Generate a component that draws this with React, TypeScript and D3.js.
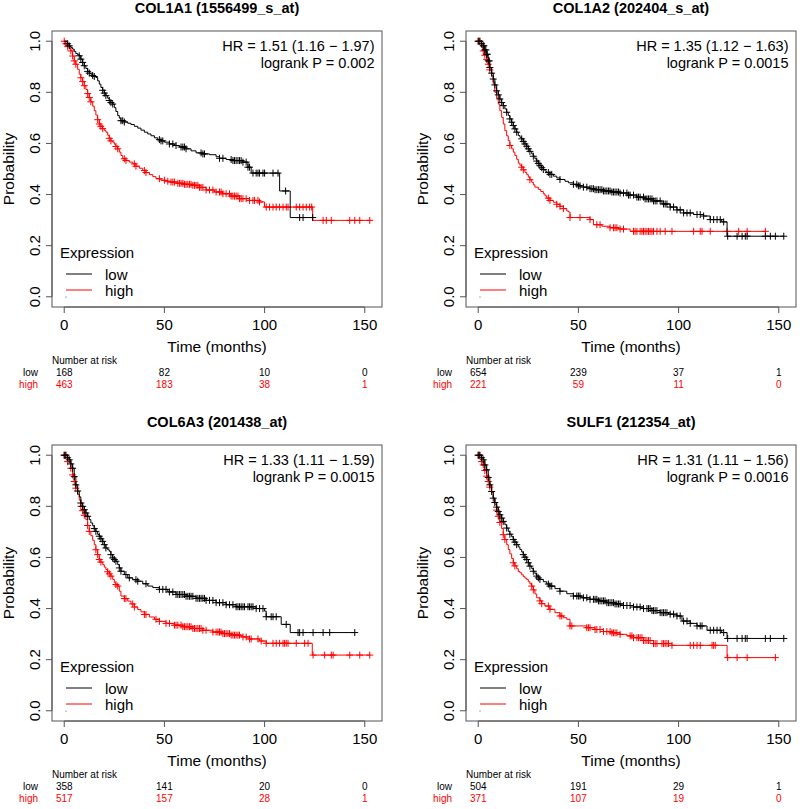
import React from "react";
import * as d3 from "d3";

// ---------- DATA ----------
const titles = ["COL1A1 (1556499_s_at)", "COL1A2 (202404_s_at)", "COL6A3 (201438_at)", "SULF1 (212354_at)"];
const hrTexts = ["HR = 1.51 (1.16 \u2212 1.97)", "HR = 1.35 (1.12 \u2212 1.63)", "HR = 1.33 (1.11 \u2212 1.59)", "HR = 1.31 (1.11 \u2212 1.56)"];
const pTexts = ["logrank P = 0.002", "logrank P = 0.0015", "logrank P = 0.0015", "logrank P = 0.0016"];
const riskTimes = [0, 50, 100, 150];
const riskLow = [[168, 82, 10, 0], [654, 239, 37, 1], [358, 141, 20, 0], [504, 191, 29, 1]];
const riskHigh = [[463, 183, 38, 1], [221, 59, 11, 0], [517, 157, 28, 1], [371, 107, 19, 0]];
const xTicks = [0, 50, 100, 150];
const yTicks = [0, 0.2, 0.4, 0.6, 0.8, 1.0];

// KM step points: time, survival
const p1LowT = [0, 1.7, 2.5, 3.3, 4.2, 5, 5.8, 6.7, 7.5, 8.3, 9.2, 10, 10.8, 11.7, 12.5, 13.3, 14.2, 15, 15.8, 16.7, 17.5, 18.3, 19.2, 20, 20.8, 21.7, 22.5, 23.3, 24.2, 25, 25.8, 26.7, 27.5, 28.3, 30, 31.7, 33.3, 35, 36.7, 38.3, 40, 41.7, 43.3, 45, 46.7, 48.3, 50, 52.5, 55, 57.5, 60.8, 63.3, 65.8, 69.2, 72.5, 75.8, 77.5, 80.8, 84, 89, 91.7, 93.3, 107.5, 112.8];
const p1LowS = [1, 0.99, 0.982, 0.975, 0.969, 0.96, 0.952, 0.947, 0.943, 0.93, 0.917, 0.904, 0.893, 0.882, 0.875, 0.871, 0.866, 0.862, 0.858, 0.845, 0.832, 0.819, 0.808, 0.797, 0.787, 0.777, 0.768, 0.76, 0.754, 0.74, 0.725, 0.709, 0.699, 0.689, 0.684, 0.679, 0.674, 0.667, 0.66, 0.652, 0.644, 0.637, 0.63, 0.622, 0.615, 0.61, 0.605, 0.598, 0.592, 0.586, 0.579, 0.571, 0.563, 0.559, 0.556, 0.548, 0.542, 0.537, 0.533, 0.527, 0.507, 0.484, 0.414, 0.31];
const p1HighT = [0, 0.8, 1.7, 2.5, 3.3, 4.2, 5, 5.8, 6.7, 7.5, 8.3, 9.2, 10, 10.8, 11.7, 12.5, 13.3, 14.2, 15, 15.8, 16.7, 17.5, 18.3, 19.2, 20, 20.8, 21.7, 22.5, 23.3, 24.2, 25, 25.8, 26.7, 27.5, 28.3, 29.2, 30.8, 32.5, 34.2, 35.8, 37.5, 39.2, 40.8, 42.5, 44.2, 45.8, 48.3, 50.8, 52.5, 56.7, 60, 64.2, 67.5, 70.8, 75, 79, 83.3, 87.5, 92.5, 97.5, 100, 124];
const p1HighS = [1, 0.99, 0.98, 0.972, 0.962, 0.942, 0.923, 0.91, 0.89, 0.871, 0.857, 0.842, 0.826, 0.811, 0.795, 0.78, 0.763, 0.746, 0.728, 0.711, 0.693, 0.676, 0.667, 0.658, 0.651, 0.644, 0.632, 0.62, 0.61, 0.605, 0.597, 0.588, 0.579, 0.566, 0.553, 0.54, 0.533, 0.527, 0.52, 0.511, 0.503, 0.494, 0.486, 0.478, 0.47, 0.462, 0.456, 0.452, 0.449, 0.444, 0.44, 0.436, 0.428, 0.418, 0.41, 0.403, 0.394, 0.384, 0.377, 0.371, 0.351, 0.299];
const p1LowC = [1.7, 2.5, 7.5, 8.3, 9.2, 10, 11.7, 12.5, 14.2, 15, 19.2, 20, 20.8, 22.5, 23.3, 24.2, 28.3, 29.2, 30, 47.5, 48.3, 49.2, 52.5, 54.2, 55.8, 58.3, 59.2, 60, 60.8, 68.3, 69.2, 70, 77.5, 79.2, 83.3, 84.2, 85, 85.8, 86.7, 87.5, 88.3, 89.2, 90.8, 91.7, 92.5, 94.2, 95.8, 96.7, 97.5, 99.2, 100, 104.2, 106.7, 110.5, 117.5, 119.2, 124];
const p1HighC = [0, 0.8, 1.7, 3.3, 4.2, 5, 5.8, 8.3, 9.2, 10, 11.7, 12.5, 13.3, 16.7, 17.5, 18.3, 19.2, 22.5, 23.3, 25.8, 26.7, 30, 30.8, 35, 35.8, 40, 40.8, 47.5, 50, 51.7, 53.3, 54.2, 55, 56.7, 57.5, 58.3, 59.2, 60, 60.8, 61.7, 62.5, 63.3, 64.2, 65, 65.8, 66.7, 67.5, 68.3, 69.2, 70.8, 72.5, 74.2, 75.8, 77.5, 78.3, 79.2, 80.8, 82.5, 83.3, 84.2, 85, 85.8, 86.7, 87.5, 88.3, 89.2, 90.8, 92.5, 94.2, 95, 96.7, 97.5, 100.8, 102.5, 104.2, 105.8, 107.5, 109.2, 110.8, 111.7, 115.8, 117.5, 119.2, 120.8, 122.5, 123.5, 129.2, 130.8, 133.3, 142.5, 145, 147.5, 152.5];

const p2LowT = [0, 1.7, 2.5, 3.3, 4.2, 5, 5.8, 6.7, 7.5, 8.3, 9.2, 10, 10.8, 11.7, 12.5, 13.3, 14.2, 15, 15.8, 16.7, 17.5, 18.3, 19.2, 20, 20.8, 21.7, 22.5, 23.3, 24.2, 25, 25.8, 26.7, 27.5, 28.3, 29.2, 30, 30.8, 31.7, 32.5, 33.3, 34.2, 35.8, 37.5, 39.2, 40.8, 43.3, 45, 47.5, 50, 52.5, 55.8, 58.3, 62.5, 66.7, 70.8, 75, 79.2, 83.3, 87.5, 91.7, 95.8, 99.2, 102.5, 107.5, 112.5, 115.8, 121.5, 124.2];
const p2LowS = [1, 0.99, 0.982, 0.966, 0.949, 0.923, 0.897, 0.875, 0.852, 0.829, 0.806, 0.79, 0.774, 0.76, 0.748, 0.735, 0.722, 0.709, 0.696, 0.683, 0.67, 0.657, 0.644, 0.631, 0.624, 0.618, 0.608, 0.598, 0.589, 0.579, 0.569, 0.559, 0.55, 0.54, 0.531, 0.522, 0.513, 0.505, 0.498, 0.492, 0.486, 0.479, 0.472, 0.465, 0.459, 0.452, 0.446, 0.44, 0.434, 0.429, 0.423, 0.419, 0.414, 0.41, 0.406, 0.398, 0.39, 0.383, 0.375, 0.363, 0.351, 0.34, 0.328, 0.322, 0.316, 0.302, 0.293, 0.237];
const p2HighT = [0, 1.7, 2.5, 3.3, 4.2, 5, 5.8, 6.7, 7.5, 8.3, 9.2, 10, 10.8, 11.7, 12.5, 13.3, 14.2, 15, 15.8, 16.7, 17.5, 18.3, 19.2, 20, 20.8, 21.7, 22.5, 23.3, 24.2, 25, 25.8, 26.7, 27.5, 28.3, 30, 31.2, 32.5, 33.3, 34.2, 35.8, 37.5, 39.2, 40.8, 42.5, 44.2, 45, 45.8, 55.8, 57.5, 61.7, 65.8, 70, 75.8];
const p2HighS = [1, 0.975, 0.962, 0.945, 0.928, 0.91, 0.888, 0.865, 0.833, 0.8, 0.777, 0.754, 0.728, 0.702, 0.676, 0.65, 0.63, 0.611, 0.592, 0.579, 0.566, 0.553, 0.538, 0.523, 0.515, 0.507, 0.497, 0.487, 0.478, 0.468, 0.458, 0.448, 0.438, 0.429, 0.42, 0.412, 0.403, 0.395, 0.386, 0.377, 0.37, 0.362, 0.354, 0.345, 0.336, 0.332, 0.31, 0.302, 0.282, 0.276, 0.27, 0.265, 0.256];
const p2LowC = [0, 0.8, 1.7, 2.5, 2.8, 3.3, 3.8, 4.2, 4.5, 5, 5.5, 5.8, 6.7, 7.5, 8.3, 9.2, 10, 10.8, 11.7, 12.5, 14.2, 15.8, 16.7, 17.5, 18.3, 19.2, 21.7, 22.5, 23.3, 24.2, 25, 25.8, 27.5, 29.2, 30, 30.8, 31.7, 32.5, 35, 35.8, 36.7, 40.8, 47.5, 49.2, 50, 50.8, 52.5, 54.2, 55.8, 56.7, 57.5, 58.3, 59.2, 60, 60.8, 61.7, 62.5, 63.3, 64.2, 65, 65.8, 66.7, 67.5, 68.3, 69.2, 70, 70.8, 72.5, 74.2, 75, 75.8, 77.5, 79.2, 80, 80.8, 82.5, 83.3, 84.2, 85, 85.8, 86.7, 87.5, 88.3, 89.2, 90.8, 92.5, 93.3, 94.2, 95.8, 97.5, 99.2, 100.8, 102.5, 104.2, 105.8, 109.2, 110.8, 112.5, 115.8, 117.5, 119.2, 120.8, 122.5, 124.5, 129.2, 131.7, 133.3, 134.2, 143.3, 145.8, 148.3, 152.5];
const p2HighC = [0, 0.8, 2.5, 3.3, 4.2, 5, 5.8, 15.8, 21.7, 22.5, 25.8, 35, 35.8, 39.2, 40.8, 42.5, 45.8, 50.8, 55.8, 59.2, 60.8, 65.8, 67.5, 68.3, 69.2, 70.8, 72.5, 77.5, 78.3, 79.2, 80.8, 81.7, 82.5, 83.3, 84.2, 85, 85.8, 86.7, 87.5, 89.2, 90.8, 93.3, 96.7, 107.5, 110.8, 111.7, 115.8, 124.2, 130, 134.2, 143.3];

const p3LowT = [0, 1.7, 2.5, 3.3, 4.2, 5, 5.8, 6.7, 7.5, 8.3, 9.2, 10, 10.8, 11.7, 12.5, 13.3, 14.2, 15, 15.8, 16.7, 17.5, 18.3, 19.2, 20, 20.8, 21.7, 22.5, 23.3, 24.2, 25, 25.8, 26.7, 27.5, 28.3, 30, 31.7, 34.2, 36.7, 39.2, 41.7, 44.2, 47.5, 51.7, 55.8, 60.8, 65.8, 70.8, 75.8, 80.8, 85.8, 95.8, 100, 100.8, 108.3, 112.8];
const p3LowS = [1, 0.99, 0.982, 0.966, 0.949, 0.916, 0.884, 0.86, 0.837, 0.813, 0.8, 0.787, 0.774, 0.761, 0.748, 0.735, 0.724, 0.713, 0.702, 0.69, 0.683, 0.673, 0.663, 0.65, 0.637, 0.63, 0.624, 0.611, 0.598, 0.592, 0.585, 0.572, 0.559, 0.546, 0.533, 0.52, 0.513, 0.507, 0.497, 0.488, 0.482, 0.475, 0.465, 0.455, 0.448, 0.44, 0.432, 0.423, 0.415, 0.407, 0.4, 0.39, 0.368, 0.338, 0.306];
const p3HighT = [0, 1.7, 3.3, 4.2, 5, 5.8, 6.7, 7.5, 8.3, 9.2, 10, 10.8, 11.7, 12.5, 13.3, 14.2, 15, 15.8, 16.7, 17.5, 18.3, 19.2, 20, 20.8, 21.7, 22.5, 23.3, 24.2, 25, 25.8, 26.7, 27.5, 28.3, 30, 31.7, 33.3, 35, 36.7, 38.3, 40, 42.5, 45, 47.5, 50.8, 55, 59.2, 64.2, 69.2, 74.2, 79.2, 83.3, 88.3, 92.5, 97.5, 100.8, 123.8];
const p3HighS = [1, 0.975, 0.949, 0.923, 0.897, 0.871, 0.847, 0.824, 0.8, 0.783, 0.765, 0.748, 0.725, 0.702, 0.685, 0.667, 0.65, 0.63, 0.611, 0.592, 0.582, 0.572, 0.562, 0.553, 0.544, 0.536, 0.527, 0.514, 0.501, 0.494, 0.488, 0.468, 0.449, 0.439, 0.429, 0.418, 0.406, 0.396, 0.387, 0.377, 0.367, 0.358, 0.35, 0.342, 0.335, 0.329, 0.322, 0.315, 0.308, 0.302, 0.296, 0.289, 0.281, 0.273, 0.264, 0.218];
const p3LowC = [0, 0.8, 1.7, 2.5, 3.3, 4.2, 5, 5.8, 6.7, 8.3, 9.2, 10, 10.8, 11.7, 15, 15.8, 17.5, 18.3, 19.2, 20, 20.8, 23.3, 24.2, 25, 25.8, 27.5, 28.3, 30.8, 32.5, 35.8, 36.7, 40.8, 47.5, 49.2, 50.8, 52.5, 54.2, 55.8, 56.7, 57.5, 58.3, 59.2, 60, 60.8, 61.7, 62.5, 63.3, 64.2, 65.8, 66.7, 67.5, 68.3, 69.2, 70, 70.8, 72.5, 74.2, 75.8, 77.5, 79.2, 80.8, 82.5, 84.2, 85.8, 86.7, 87.5, 88.3, 89.2, 90, 91.7, 92.5, 93.3, 94.2, 95.8, 97.5, 99.2, 100.8, 103.3, 104.2, 105.8, 110.8, 116.7, 117.5, 119.2, 124.2, 129.2, 132.5, 145];
const p3HighC = [0, 0.8, 1.7, 3.3, 4.2, 5, 5.8, 8.3, 9.2, 10, 11.7, 12.5, 15.8, 16.7, 17.5, 18.3, 21.7, 22.5, 23.3, 25.8, 26.7, 30, 30.8, 34.2, 35, 40, 40.8, 45.8, 47.5, 50.8, 52.5, 55, 55.8, 56.7, 58.3, 59.2, 60, 60.8, 61.7, 62.5, 63.3, 64.2, 65, 65.8, 66.7, 67.5, 68.3, 69.2, 70.8, 74.2, 75.8, 76.7, 77.5, 78.3, 79.2, 80, 80.8, 81.7, 82.5, 83.3, 84.2, 85, 85.8, 86.7, 87.5, 89.2, 90.8, 92.5, 93.3, 96.7, 98.3, 100.8, 104.2, 105.8, 107.5, 109.2, 110, 110.8, 111.7, 115.8, 120, 121.7, 124.2, 130, 133.3, 134.2, 142.5, 147.5, 152.5];

const p4LowT = [0, 1.7, 2.5, 3.3, 4.2, 5, 5.8, 6.7, 7.5, 8.3, 9.2, 10, 10.8, 11.7, 12.5, 13.3, 14.2, 15, 15.8, 16.7, 17.5, 18.3, 19.2, 20, 20.8, 21.7, 22.5, 23.3, 24.2, 25, 25.8, 26.7, 27.5, 28.3, 29.2, 30, 30.8, 32.5, 34.2, 35.8, 38.3, 40.8, 44.2, 47.5, 51.7, 55.8, 60, 64.2, 68.3, 72.5, 77.5, 82.5, 86.7, 90.8, 95, 99.2, 101.7, 105.8, 109.2, 114.2, 121.5, 124.2];
const p4LowS = [1, 0.99, 0.982, 0.962, 0.943, 0.913, 0.884, 0.858, 0.832, 0.815, 0.797, 0.78, 0.767, 0.754, 0.741, 0.728, 0.715, 0.702, 0.691, 0.681, 0.67, 0.66, 0.65, 0.641, 0.631, 0.621, 0.611, 0.601, 0.592, 0.579, 0.566, 0.556, 0.546, 0.536, 0.527, 0.52, 0.514, 0.505, 0.496, 0.488, 0.478, 0.468, 0.458, 0.449, 0.442, 0.436, 0.43, 0.423, 0.418, 0.412, 0.406, 0.4, 0.392, 0.384, 0.378, 0.371, 0.351, 0.342, 0.332, 0.315, 0.306, 0.283];
const p4HighT = [0, 1.7, 2.5, 3.3, 4.2, 5, 5.8, 6.7, 7.5, 8.3, 9.2, 10, 10.8, 11.7, 12.5, 13.3, 14.2, 15, 15.8, 16.7, 17.5, 18.3, 19.2, 20, 20.8, 21.7, 22.5, 23.3, 24.2, 25, 25.8, 26.7, 27.5, 28.3, 29.2, 30.8, 31.7, 33.3, 35.8, 38.3, 40.8, 42.5, 44.2, 45.8, 54.2, 58.3, 62.5, 66.7, 70.8, 74.2, 77.5, 82.5, 87.5, 96.7, 124.2];
const p4HighS = [1, 0.975, 0.962, 0.94, 0.918, 0.897, 0.875, 0.854, 0.832, 0.808, 0.785, 0.761, 0.737, 0.713, 0.689, 0.67, 0.65, 0.631, 0.614, 0.596, 0.579, 0.567, 0.556, 0.545, 0.54, 0.532, 0.525, 0.519, 0.514, 0.505, 0.497, 0.488, 0.473, 0.457, 0.442, 0.43, 0.419, 0.41, 0.397, 0.384, 0.371, 0.364, 0.358, 0.332, 0.325, 0.318, 0.31, 0.305, 0.299, 0.293, 0.286, 0.275, 0.263, 0.256, 0.208];
const p4LowC = [0, 0.8, 1.7, 2.5, 3.3, 4.2, 5, 5.8, 6.7, 7.5, 8.3, 9.2, 10, 10.8, 11.7, 12.5, 14.2, 15.8, 17.5, 18.3, 19.2, 22.5, 23.3, 24.2, 25, 25.8, 27.5, 29.2, 30, 30.8, 35, 35.8, 36.7, 40.8, 47.5, 49.2, 50, 50.8, 52.5, 54.2, 55.8, 57.5, 58.3, 59.2, 60, 60.8, 61.7, 62.5, 63.3, 64.2, 65, 65.8, 66.7, 67.5, 68.3, 69.2, 70, 70.8, 72.5, 74.2, 75.8, 77.5, 79.2, 80.8, 82.5, 84.2, 85, 85.8, 86.7, 87.5, 88.3, 89.2, 90.8, 91.7, 92.5, 93.3, 94.2, 95.8, 97.5, 99.2, 100.8, 102.5, 104.2, 105.8, 109.2, 110.8, 111.7, 115.8, 117.5, 119.2, 120.8, 122.5, 124.5, 129.2, 131.7, 133.3, 134.2, 143.3, 145.8, 152.5];
const p4HighC = [0, 0.8, 1.7, 2.5, 3.3, 4.2, 5, 5.8, 9.2, 10, 10.8, 12.5, 13.3, 17.5, 18.3, 26.7, 27.5, 30.8, 31.7, 35, 35.8, 40.8, 41.7, 45.8, 46.7, 54.2, 55, 55.8, 58.3, 59.2, 60.8, 62.5, 64.2, 65.8, 66.7, 67.5, 68.3, 69.2, 70.8, 75.8, 76.7, 77.5, 79.2, 80, 80.8, 81.7, 82.5, 83.3, 84.2, 85, 85.8, 87.5, 88.3, 89.2, 91.7, 92.5, 93.3, 94.2, 95, 96.7, 105.8, 107.5, 109.2, 110.8, 116.7, 117.5, 118.3, 124.5, 129.2, 134.2, 148.3];

const lowTimes = [p1LowT, p2LowT, p3LowT, p4LowT];
const lowSurv = [p1LowS, p2LowS, p3LowS, p4LowS];
const highTimes = [p1HighT, p2HighT, p3HighT, p4HighT];
const highSurv = [p1HighS, p2HighS, p3HighS, p4HighS];
const lowCens = [p1LowC, p2LowC, p3LowC, p4LowC];
const highCens = [p1HighC, p2HighC, p3HighC, p4HighC];

const groupColors = { low: "#000000", high: "#ff0000" };
const FONT = "'Liberation Sans', Arial, Helvetica, sans-serif";

// ---------- LAYOUT ----------
const W = 800, H = 809;
const PANEL = 414;
const BOX = { left: 52, right: 382, top: 31, bottom: 307 };

function stepValue(times: number[], surv: number[], t: number) {
  const i = d3.bisectRight(times, t) - 1;
  return surv[Math.max(0, i)];
}

function Curve({ times, surv, cens, color, x, y }: any) {
  const end = Math.max(d3.max(cens) as number, d3.max(times) as number);
  const pts: [number, number][] = times.map((t: number, i: number) => [t, surv[i]]);
  pts.push([end, surv[surv.length - 1]]);
  const line = d3.line<[number, number]>().x(d => x(d[0])).y(d => y(d[1])).curve(d3.curveStepAfter);
  const s = 3.5;
  return (
    <g>
      <path d={line(pts) || ""} fill="none" stroke={color} strokeWidth={1} />
      {cens.map((t: number, i: number) => {
        const cx = x(t), cy = y(stepValue(times, surv, t));
        return <path key={i} d={`M${cx - s},${cy}H${cx + s}M${cx},${cy - s}V${cy + s}`} stroke={color} strokeWidth={1} fill="none" />;
      })}
    </g>
  );
}

function Panel({ idx }: { idx: number }) {
  const col = idx % 2, row = Math.floor(idx / 2);
  const allT = [...lowCens[idx], ...highCens[idx], ...lowTimes[idx], ...highTimes[idx]];
  const tmax = d3.max(allT) as number;
  const x = d3.scaleLinear().domain([-0.04 * tmax, 1.04 * tmax]).range([BOX.left, BOX.right]);
  const y = d3.scaleLinear().domain([-0.04, 1.04]).range([BOX.bottom, BOX.top]);
  const cx = (BOX.left + BOX.right) / 2;
  const cy = (BOX.top + BOX.bottom) / 2;
  const axisColor = "#555";
  return (
    <g transform={`translate(${col * PANEL},${row * PANEL})`} fontFamily={FONT}>
      <text x={cx} y={13} textAnchor="middle" fontSize={14.5} fontWeight="bold">{titles[idx]}</text>
      <rect x={BOX.left} y={BOX.top} width={BOX.right - BOX.left} height={BOX.bottom - BOX.top} fill="none" stroke={axisColor} strokeWidth={1} />
      <line x1={x(xTicks[0])} x2={x(xTicks[xTicks.length - 1])} y1={BOX.bottom} y2={BOX.bottom} stroke={axisColor} />
      {xTicks.map(t => (
        <g key={t}>
          <line x1={x(t)} x2={x(t)} y1={BOX.bottom} y2={BOX.bottom + 6} stroke={axisColor} />
          <text x={x(t)} y={329.5} textAnchor="middle" fontSize={15}>{t}</text>
        </g>
      ))}
      <text x={cx} y={351.5} textAnchor="middle" fontSize={15.5}>Time (months)</text>
      <line x1={BOX.left} x2={BOX.left} y1={y(0)} y2={y(1)} stroke={axisColor} />
      {yTicks.map(v => (
        <g key={v}>
          <line x1={BOX.left - 6} x2={BOX.left} y1={y(v)} y2={y(v)} stroke={axisColor} />
          <text transform={`translate(39.5,${y(v)}) rotate(-90)`} textAnchor="middle" fontSize={15}>{v.toFixed(1)}</text>
        </g>
      ))}
      <text transform={`translate(14,${cy}) rotate(-90)`} textAnchor="middle" fontSize={15.5}>Probability</text>
      <Curve times={highTimes[idx]} surv={highSurv[idx]} cens={highCens[idx]} color={groupColors.high} x={x} y={y} />
      <Curve times={lowTimes[idx]} surv={lowSurv[idx]} cens={lowCens[idx]} color={groupColors.low} x={x} y={y} />
      <text x={374.5} y={50.5} textAnchor="end" fontSize={14.5}>{hrTexts[idx]}</text>
      <text x={374.5} y={67.5} textAnchor="end" fontSize={14.5}>{pTexts[idx]}</text>
      <text x={60} y={258} fontSize={15}>Expression</text>
      <line x1={66} x2={92} y1={274} y2={274} stroke={groupColors.low} />
      <text x={105} y={279.5} fontSize={15}>low</text>
      <line x1={66} x2={92} y1={290} y2={290} stroke={groupColors.high} />
      <text x={105} y={295.5} fontSize={15}>high</text>
      <circle cx={66} cy={297} r={0.6} fill="#444" />
      <text x={BOX.left} y={364} fontSize={10}>Number at risk</text>
      <text x={38} y={376} textAnchor="end" fontSize={10}>low</text>
      <text x={38} y={387.7} textAnchor="end" fontSize={10} fill={groupColors.high}>high</text>
      {riskTimes.map((t, i) => (
        <g key={t}>
          <text x={x(t)} y={376} textAnchor="middle" fontSize={10}>{riskLow[idx][i]}</text>
          <text x={x(t)} y={387.7} textAnchor="middle" fontSize={10} fill={groupColors.high}>{riskHigh[idx][i]}</text>
        </g>
      ))}
    </g>
  );
}

export default function App() {
  return (
    <svg width={W} height={H} style={{ position: "absolute", left: 0, top: 0, background: "#fff" }}>
      {[0, 1, 2, 3].map(i => <Panel key={i} idx={i} />)}
    </svg>
  );
}
